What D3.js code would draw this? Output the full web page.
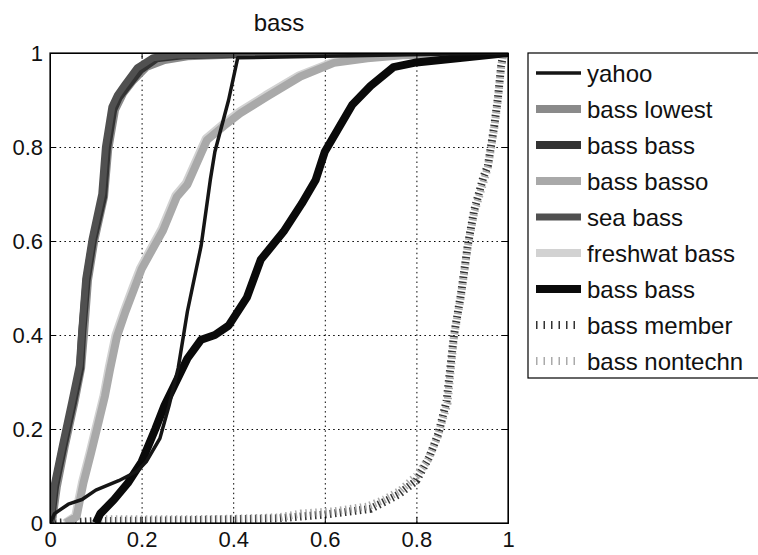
<!DOCTYPE html>
<html lang="en">
<head>
<meta charset="UTF-8">
<title>bass</title>
<script src="https://d3js.org/d3.v7.min.js"></script>
<style>
  body { margin: 0; background: #fff; font-family: "Liberation Sans", Arial, sans-serif; }
  .grid line { stroke: #000; stroke-dasharray: 1.5 3.3; stroke-width: 1; }
  .grid path { display: none; }
  .axis path, .axis line { stroke: #000; }
  .axis text { font-size: 22px; fill: #111; font-family: "Liberation Sans", Arial, sans-serif; }
</style>
</head>
<body>
<div id="chart"></div>
<script>
// tick values
const xTicks = [0, 0.2, 0.4, 0.6, 0.8, 1];
const yTicks = [0, 0.2, 0.4, 0.6, 0.8, 1];

// curves (x, y pairs)
const yahooX = [0, 0.01, 0.04, 0.07, 0.1, 0.15, 0.19, 0.21, 0.24, 0.26, 0.28, 0.3, 0.33, 0.35, 0.36, 0.39, 0.41, 1.0];
const yahooY = [0, 0.02, 0.04, 0.05, 0.07, 0.09, 0.11, 0.13, 0.18, 0.25, 0.33, 0.45, 0.59, 0.73, 0.79, 0.9, 0.99, 1];

const lowestX = [0, 0.006, 0.015, 0.032, 0.053, 0.068, 0.074, 0.083, 0.097, 0.118, 0.127, 0.142, 0.16, 0.18, 0.21, 0.25, 0.3, 0.5, 1];
const lowestY = [0, 0.013, 0.077, 0.162, 0.255, 0.33, 0.4, 0.517, 0.602, 0.694, 0.794, 0.879, 0.915, 0.94, 0.97, 0.985, 0.993, 1, 1];

const bassDarkX = [0, 0.003, 0.011, 0.029, 0.05, 0.066, 0.07, 0.08, 0.094, 0.116, 0.124, 0.138, 0.15, 0.168, 0.197, 0.233, 0.29, 0.5, 1];
const bassDarkY = [0, 0.013, 0.077, 0.162, 0.255, 0.33, 0.4, 0.517, 0.602, 0.694, 0.794, 0.879, 0.905, 0.928, 0.964, 0.989, 0.995, 1, 1];

const bassoX = [0.035, 0.058, 0.073, 0.09, 0.102, 0.12, 0.131, 0.146, 0.165, 0.183, 0.2, 0.219, 0.247, 0.277, 0.3, 0.343, 0.38, 0.416, 0.474, 0.547, 0.62, 0.693, 0.77, 1];
const bassoY = [0, 0.013, 0.085, 0.15, 0.198, 0.27, 0.326, 0.396, 0.45, 0.496, 0.54, 0.574, 0.623, 0.694, 0.72, 0.815, 0.845, 0.872, 0.907, 0.95, 0.979, 0.989, 0.995, 1];

const seaX = [0, 0.002, 0.009, 0.027, 0.048, 0.064, 0.069, 0.078, 0.092, 0.113, 0.121, 0.135, 0.147, 0.165, 0.19, 0.225, 0.28, 0.5, 1];
const seaY = [0, 0.015, 0.08, 0.165, 0.26, 0.335, 0.405, 0.52, 0.605, 0.7, 0.8, 0.885, 0.91, 0.935, 0.968, 0.99, 0.996, 1, 1];

const freshX = [0.032, 0.055, 0.07, 0.087, 0.099, 0.117, 0.128, 0.143, 0.162, 0.18, 0.197, 0.216, 0.244, 0.274, 0.297, 0.34, 0.377, 0.413, 0.47, 0.543, 0.615, 0.69, 0.76, 1];
const freshY = [0, 0.015, 0.087, 0.152, 0.2, 0.272, 0.33, 0.4, 0.453, 0.5, 0.543, 0.577, 0.627, 0.697, 0.724, 0.818, 0.848, 0.875, 0.91, 0.952, 0.98, 0.99, 0.996, 1];

const bassBlackX = [0.1, 0.11, 0.14, 0.17, 0.2, 0.23, 0.25, 0.27, 0.3, 0.33, 0.36, 0.39, 0.43, 0.46, 0.51, 0.55, 0.58, 0.6, 0.63, 0.66, 0.7, 0.75, 0.8, 0.9, 1.0];
const bassBlackY = [0, 0.02, 0.05, 0.085, 0.13, 0.2, 0.25, 0.29, 0.35, 0.39, 0.4, 0.42, 0.48, 0.56, 0.62, 0.68, 0.73, 0.79, 0.84, 0.89, 0.93, 0.97, 0.98, 0.99, 1];

const memberX = [0, 0.1, 0.3, 0.5, 0.6, 0.7, 0.76, 0.8, 0.828, 0.848, 0.866, 0.874, 0.882, 0.897, 0.912, 0.926, 0.946, 0.956, 0.97, 0.978, 0.985, 0.99, 1];
const memberY = [0, 0.004, 0.006, 0.01, 0.018, 0.03, 0.06, 0.09, 0.14, 0.19, 0.26, 0.33, 0.4, 0.485, 0.59, 0.665, 0.735, 0.76, 0.845, 0.905, 0.972, 1, 1];

const nontechnX = [0.1, 0.2, 0.3, 0.4, 0.5, 0.547, 0.62, 0.693, 0.73, 0.766, 0.8, 0.825, 0.846, 0.868, 0.875, 0.882, 0.897, 0.912, 0.926, 0.948, 0.956, 0.97, 0.978, 0.985, 0.99, 1];
const nontechnY = [0.008, 0.008, 0.008, 0.009, 0.012, 0.02, 0.025, 0.035, 0.05, 0.07, 0.1, 0.134, 0.183, 0.255, 0.326, 0.396, 0.481, 0.587, 0.66, 0.73, 0.757, 0.84, 0.9, 0.97, 1, 1];

const seriesNames = ["yahoo", "bass lowest", "bass bass", "bass basso", "sea bass", "freshwat bass", "bass bass", "bass member", "bass nontechn"];

// styles per series (drawing order is separate)
const styles = [
  {color: "#151515", width: 3.5, dash: null},
  {color: "#8a8a8a", width: 8, dash: null},
  {color: "#333333", width: 8, dash: null},
  {color: "#a9a9a9", width: 8, dash: null},
  {color: "#505050", width: 7, dash: null},
  {color: "#d2d2d2", width: 8, dash: null},
  {color: "#0a0a0a", width: 8, dash: null},
  {color: "#333", width: 8, dash: "1.5 3.5"},
  {color: "#aaa", width: 8, dash: "1.5 3.5"}
];

const seriesData = [
  [yahooX, yahooY], [lowestX, lowestY], [bassDarkX, bassDarkY], [bassoX, bassoY],
  [seaX, seaY], [freshX, freshY], [bassBlackX, bassBlackY], [memberX, memberY], [nontechnX, nontechnY]
].map(([xs, ys], i) => ({
  name: seriesNames[i],
  style: styles[i],
  points: xs.map((x, j) => ({x: x, y: ys[j]}))
}));

const drawOrder = [7, 8, 1, 2, 4, 5, 3, 6, 0];

const margin = {top: 53, left: 50},
      width = 458,
      height = 470;

const svg = d3.select("#chart")
  .append("svg")
  .attr("width", 758)
  .attr("height", 555);

const g = svg.append("g")
  .attr("transform", `translate(${margin.left},${margin.top})`);

const x = d3.scaleLinear().domain([0, 1]).range([0, width]);
const y = d3.scaleLinear().domain([0, 1]).range([height, 0]);

// Title
svg.append("text")
  .attr("x", margin.left + width / 2)
  .attr("y", 31)
  .attr("text-anchor", "middle")
  .style("font-size", "24px")
  .style("fill", "#111")
  .text("bass");

// grid lines
g.append("g")
  .attr("class", "grid")
  .attr("transform", `translate(0,${height})`)
  .call(d3.axisBottom(x).tickValues([0.2, 0.4, 0.6, 0.8]).tickSize(-height).tickFormat(""));

g.append("g")
  .attr("class", "grid")
  .call(d3.axisLeft(y).tickValues([0.2, 0.4, 0.6, 0.8]).tickSize(-width).tickFormat(""));

// curves, clipped to the axes box
g.append("clipPath").attr("id", "clip")
  .append("rect").attr("width", width).attr("height", height);

const line = d3.line()
  .x(d => x(d.x))
  .y(d => y(d.y))
  .curve(d3.curveLinear);

const curves = g.append("g").attr("clip-path", "url(#clip)");

curves.selectAll("path")
  .data(drawOrder.map(i => seriesData[i]))
  .join("path")
  .attr("d", d => line(d.points))
  .attr("fill", "none")
  .attr("stroke", d => d.style.color)
  .attr("stroke-width", d => d.style.width)
  .attr("stroke-dasharray", d => d.style.dash)
  .attr("stroke-linejoin", "round");

// axes, ticks pointing inward
g.append("g")
  .attr("class", "axis")
  .attr("transform", `translate(0,${height})`)
  .call(d3.axisBottom(x).tickValues(xTicks).tickSize(-6).tickFormat(d3.format("")))
  .call(a => a.selectAll("text").attr("y", 24).attr("dy", 0));

g.append("g")
  .attr("class", "axis")
  .call(d3.axisLeft(y).tickValues(yTicks).tickSize(-6).tickPadding(7).tickFormat(d3.format("")));

g.append("g")
  .attr("class", "axis")
  .call(d3.axisTop(x).tickValues(xTicks).tickSize(-6).tickFormat(""));

g.append("g")
  .attr("class", "axis")
  .attr("transform", `translate(${width},0)`)
  .call(d3.axisRight(y).tickValues(yTicks).tickSize(-6).tickFormat(""));

g.append("rect")
  .attr("width", width)
  .attr("height", height)
  .attr("fill", "none")
  .attr("stroke", "#000")
  .attr("stroke-width", 1.2);

// Legend
const legend = svg.append("g")
  .attr("transform", "translate(528,53)");

legend.append("rect")
  .attr("width", 240)
  .attr("height", 325)
  .attr("fill", "#fff")
  .attr("stroke", "#000")
  .attr("stroke-width", 1.2);

const rows = legend.selectAll("g.row")
  .data(seriesData)
  .join("g")
  .attr("class", "row")
  .attr("transform", (d, i) => `translate(0,${20 + i * 36})`);

rows.append("line")
  .attr("x1", 8)
  .attr("x2", 53)
  .attr("stroke", d => d.style.color)
  .attr("stroke-width", d => d.style.width)
  .attr("stroke-dasharray", d => d.style.dash ? "1.5 6" : null);

rows.append("text")
  .attr("x", 59)
  .attr("dy", "0.36em")
  .style("font-size", "24px")
  .style("fill", "#111")
  .text(d => d.name);
</script>
</body>
</html>
